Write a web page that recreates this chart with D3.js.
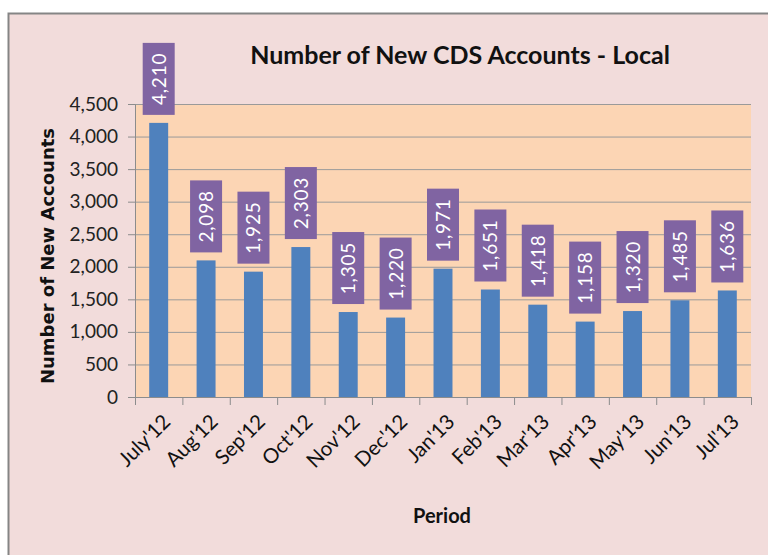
<!DOCTYPE html>
<html>
<head>
<meta charset="utf-8">
<script src="https://cdn.jsdelivr.net/npm/d3@7"></script>
<style>
  body { margin: 0; background: #fff; }
  text { font-family: Lato, "Open Sans", sans-serif; }
</style>
</head>
<body>
<div id="chart"></div>
<script>
// Number of New CDS Accounts - Local, by month
const periods = ["July'12", "Aug'12", "Sep'12", "Oct'12", "Nov'12", "Dec'12", "Jan'13",
  "Feb'13", "Mar'13", "Apr'13", "May'13", "Jun'13", "Jul'13"];
const accounts = [4210, 2098, 1925, 2303, 1305, 1220, 1971, 1651, 1418, 1158, 1320, 1485, 1636];
const yTicks = [0, 500, 1000, 1500, 2000, 2500, 3000, 3500, 4000, 4500];

const W = 768, H = 555;
const margin = {top: 104, right: 17, bottom: 158, left: 135};

const svg = d3.select("#chart").append("svg").attr("width", W).attr("height", H);

// chart frame
svg.append("rect").attr("x", 8).attr("y", 13).attr("width", W - 8).attr("height", H - 13)
  .attr("fill", "#f2dcdb");
svg.append("path").attr("d", `M8.5,${H} V13.5 H${W}`).attr("fill", "none")
  .attr("stroke", "#858585").attr("stroke-width", 2);

const x = d3.scaleBand().domain(periods).range([margin.left, W - margin.right])
  .paddingInner(0.6).paddingOuter(0.3);
const y = d3.scaleLinear().domain([0, 4500]).range([H - margin.bottom, margin.top]);
const step = x.step();

// plot area
svg.append("rect").attr("x", margin.left).attr("y", margin.top)
  .attr("width", W - margin.right - margin.left).attr("height", y(0) - margin.top)
  .attr("fill", "#fcd5b4");

// gridlines
svg.append("g").selectAll("line").data(yTicks.slice(1)).join("line")
  .attr("x1", margin.left).attr("x2", W - margin.right)
  .attr("y1", d => y(d) + 0.5).attr("y2", d => y(d) + 0.5)
  .attr("stroke", "#9a9a9a").attr("stroke-width", 1);

// y axis
const yAxis = svg.append("g").attr("transform", `translate(${margin.left},0)`)
  .call(d3.axisLeft(y).tickValues(yTicks).tickFormat(d3.format(",")).tickSize(7).tickPadding(10));
yAxis.select(".domain").attr("stroke", "#8c8c8c");
yAxis.selectAll(".tick line").attr("stroke", "#8c8c8c");
yAxis.selectAll("text").attr("font-size", 19).attr("fill", "#222")
  .style("font-family", "Lato, sans-serif");

// x axis: ticks at band boundaries
const xg = svg.append("g");
xg.append("line").attr("x1", margin.left).attr("x2", W - margin.right)
  .attr("y1", y(0) + 0.5).attr("y2", y(0) + 0.5).attr("stroke", "#8c8c8c");
xg.selectAll("line.tk").data(d3.range(periods.length + 1)).join("line").attr("class", "tk")
  .attr("x1", i => margin.left + i * step + 0.5).attr("x2", i => margin.left + i * step + 0.5)
  .attr("y1", y(0)).attr("y2", y(0) + 8).attr("stroke", "#8c8c8c");
xg.selectAll("text").data(periods).join("text")
  .attr("transform", d => `translate(${x(d) + x.bandwidth() / 2 + 13},${y(0) + 26}) rotate(-45)`)
  .attr("text-anchor", "end").attr("font-size", 20.5).attr("fill", "#111")
  .text(d => d);

// bars
svg.append("g").selectAll("rect").data(accounts).join("rect")
  .attr("x", (d, i) => x(periods[i])).attr("width", x.bandwidth())
  .attr("y", d => y(d)).attr("height", d => y(0) - y(d))
  .attr("fill", "#4f81bd");

// data labels
const lbl = svg.append("g").selectAll("g").data(accounts).join("g")
  .attr("transform", (d, i) => `translate(${x(periods[i]) + x.bandwidth() / 2},${y(d) - 8})`);
lbl.append("rect").attr("x", -16).attr("y", -72).attr("width", 32).attr("height", 72)
  .attr("fill", "#8064a2");
lbl.append("text").attr("transform", "translate(7,-36) rotate(-90)")
  .attr("text-anchor", "middle").attr("font-size", 19).attr("fill", "#fff")
  .attr("letter-spacing", 0.8)
  .text(d => d3.format(",")(d));

// titles
svg.append("text").attr("x", 460).attr("y", 64).attr("text-anchor", "middle")
  .attr("font-size", 25).attr("font-weight", "bold").attr("fill", "#111")
  .text("Number of New CDS Accounts - Local");
svg.append("text").attr("transform", "translate(54,256) rotate(-90)").attr("text-anchor", "middle")
  .attr("font-size", 18).attr("font-weight", "bold").attr("fill", "#111")
  .style("font-family", "'DejaVu Sans', sans-serif")
  .text("Number of New Accounts");
svg.append("text").attr("x", 442).attr("y", 523).attr("text-anchor", "middle")
  .attr("font-size", 20).attr("font-weight", "bold").attr("fill", "#111")
  .text("Period");
</script>
</body>
</html>
